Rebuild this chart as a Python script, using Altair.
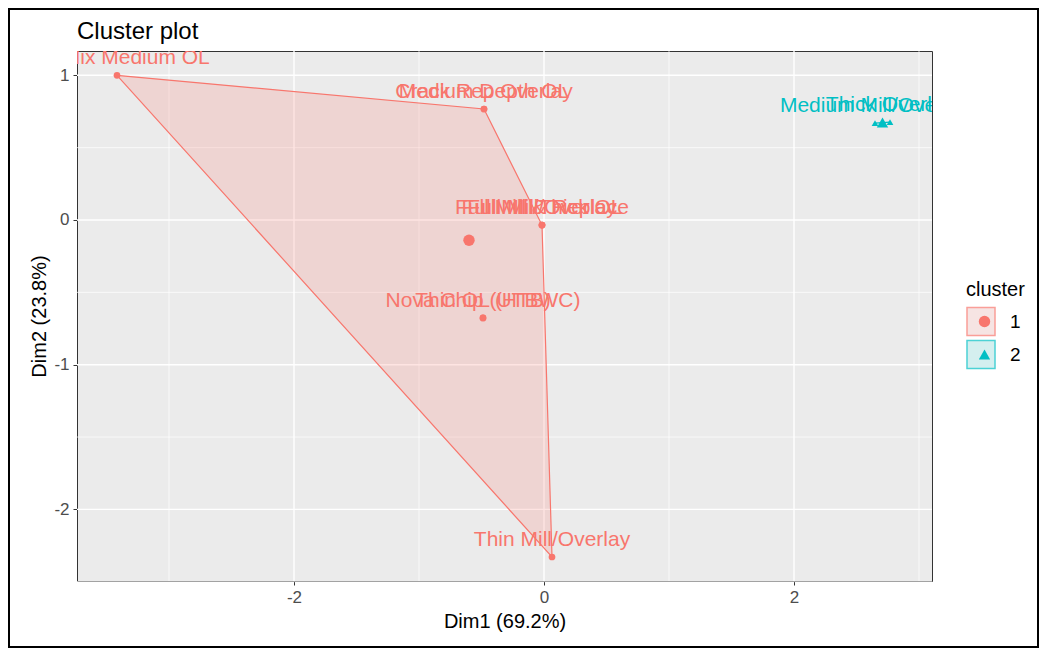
import altair as alt
import pandas as pd

# ---------------- data ----------------
labels = ["Hot Mix Medium OL", "Crack Rep Overlay", "Medium Depth OL",
          "Full Mill & Replace", "Full Mill/Overlay", "Full Mill/Thick OL",
          "Nova Chip (UTBWC)", "Thin OL (HTB)", "Thin Mill/Overlay",
          "Medium Mill/Overlay", "Thick Overlay"]
dim1 = [-3.416, -0.48, -0.48, -0.016, -0.016, -0.016, -0.488, -0.488, 0.064, 2.648, 2.768]
dim2 = [1.000, 0.767, 0.767, -0.035, -0.035, -0.035, -0.677, -0.677, -2.329, 0.670, 0.677]
cluster = ["1", "1", "1", "1", "1", "1", "1", "1", "1", "2", "2"]

center_cluster = ["1", "2"]
center_dim1 = [-0.60, 2.708]
center_dim2 = [-0.14, 0.674]

hull_cluster1 = ["Hot Mix Medium OL", "Crack Rep Overlay", "Full Mill & Replace",
                 "Thin Mill/Overlay", "Hot Mix Medium OL"]
hull_cluster2 = ["Medium Mill/Overlay", "Thick Overlay", "Medium Mill/Overlay"]

cluster_names = ["1", "2"]
cluster_colors = ["#F8766D", "#00BFC4"]
box_fills = ["#F3D9D7", "#C2E8E9"]
cluster_shapes = ["circle", "triangle-up"]

x_ticks = [-2, 0, 2]
x_minor = [-3, -1, 1, 3]
y_ticks = [-2, -1, 0, 1]
y_minor = [-2.5, -1.5, -0.5, 0.5]
x_domain = [-3.736, 3.104]
y_domain = [-2.495, 1.168]

# ---------------- tables ----------------
pts = pd.DataFrame({"label": labels, "dim1": dim1, "dim2": dim2, "cluster": cluster})
centers = pd.DataFrame({"cluster": center_cluster, "dim1": center_dim1, "dim2": center_dim2})
lookup = {l: (a, b) for l, a, b in zip(labels, dim1, dim2)}
hull_rows = []
for cl, names in (("1", hull_cluster1), ("2", hull_cluster2)):
    for i, n in enumerate(names):
        hull_rows.append({"cluster": cl, "ord": i, "dim1": lookup[n][0], "dim2": lookup[n][1]})
hull = pd.DataFrame(hull_rows)

FONT = "Liberation Sans"
W, H = 855, 530

xscale = alt.Scale(domain=x_domain, nice=False, zero=False)
yscale = alt.Scale(domain=y_domain, nice=False, zero=False)
xaxis = alt.Axis(values=x_ticks, grid=False, domain=False, ticks=True, tickSize=4,
                 tickColor="#333333", labelFontSize=17, labelColor="#4D4D4D",
                 labelFont=FONT, labelPadding=4, title="Dim1 (69.2%)", titleFont=FONT,
                 titleFontSize=20, titleFontWeight="normal", titleColor="black",
                 titlePadding=6, format="d", labelExpr="replace(datum.label, '−', '-')")
yaxis = alt.Axis(values=y_ticks, grid=False, domain=False, ticks=True, tickSize=4,
                 tickColor="#333333", labelFontSize=17, labelColor="#4D4D4D",
                 labelFont=FONT, labelPadding=4, title="Dim2 (23.8%)", titleFont=FONT,
                 titleFontSize=20, titleFontWeight="normal", titleColor="black",
                 titlePadding=4, format="d", labelExpr="replace(datum.label, '−', '-')")


def X(field):
    return alt.X(field, type="quantitative", scale=xscale, axis=xaxis)


def Y(field):
    return alt.Y(field, type="quantitative", scale=yscale, axis=yaxis)


# grid
gx_minor = alt.Chart(pd.DataFrame({"v": x_minor})).mark_rule(color="white", strokeWidth=0.7).encode(x=X("v"))
gx_major = alt.Chart(pd.DataFrame({"v": x_ticks})).mark_rule(color="white", strokeWidth=1.4).encode(x=X("v"))
gy_minor = alt.Chart(pd.DataFrame({"v": y_minor})).mark_rule(color="white", strokeWidth=0.7).encode(y=Y("v"))
gy_major = alt.Chart(pd.DataFrame({"v": y_ticks})).mark_rule(color="white", strokeWidth=1.4).encode(y=Y("v"))

legend_x, legend_y = 889, 229

box_legend = alt.Legend(title="cluster", orient="none", legendX=legend_x, legendY=legend_y,
                        symbolType="square", symbolSize=784, symbolStrokeWidth=1.5,
                        clipHeight=31, labelFontSize=19, labelColor="black", labelFont=FONT,
                        titleFontSize=20, titleFont=FONT, titleFontWeight="normal",
                        titleColor="black", labelOffset=14, titlePadding=6, zindex=1)
shape_legend = alt.Legend(title="cluster", orient="none", legendX=legend_x + 9, legendY=legend_y,
                          symbolSize=130, clipHeight=31, labelFontSize=19, labelOpacity=0,
                          labelFont=FONT, titleFontSize=20, titleFont=FONT, titleOpacity=0,
                          titleFontWeight="normal", titleColor="black", titlePadding=6, zindex=2)

hull_layers = []
for cl, col in zip(cluster_names, cluster_colors):
    hull_layers.append(
        alt.Chart(hull).transform_filter(alt.datum.cluster == cl).mark_line(
            fill=col, fillOpacity=0.2, stroke=col, strokeWidth=1.2
        ).encode(x=X("dim1"), y=Y("dim2"), order="ord:Q")
    )

# invisible layer that only carries the boxed legend keys
legend_box_layer = alt.Chart(centers).mark_point(shape="square", filled=True, size=0).encode(
    x=X("dim1"), y=Y("dim2"),
    fill=alt.Fill("cluster:N", scale=alt.Scale(domain=cluster_names, range=box_fills), legend=box_legend),
    stroke=alt.Stroke("cluster:N", scale=alt.Scale(domain=cluster_names, range=cluster_colors), legend=box_legend),
)

color_enc = alt.Color("cluster:N", scale=alt.Scale(range=cluster_colors), legend=shape_legend)
shape_enc = alt.Shape("cluster:N", scale=alt.Scale(range=cluster_shapes), legend=shape_legend)

point_layer = alt.Chart(pts).mark_point(filled=True, size=45, opacity=1).encode(
    x=X("dim1"), y=Y("dim2"), color=color_enc, shape=shape_enc)
center_layer = alt.Chart(centers).mark_point(filled=True, size=130, opacity=1).encode(
    x=X("dim1"), y=Y("dim2"), color=color_enc, shape=shape_enc)

text_layers = []
for cl, col in zip(cluster_names, cluster_colors):
    text_layers.append(
        alt.Chart(pts).transform_filter(alt.datum.cluster == cl).mark_text(
            fontSize=21, font=FONT, color=col, dy=-11, baseline="alphabetic",
            align="center", clip=True
        ).encode(x=X("dim1"), y=Y("dim2"), text="label:N")
    )

frame = alt.Chart(alt.Data(values=[{}])).mark_rect(
    filled=False, stroke="black", strokeWidth=2
).encode(x=alt.value(-68), x2=alt.value(961), y=alt.value(-42), y2=alt.value(596))

chart = alt.layer(
    gx_minor, gy_minor, gx_major, gy_major, *hull_layers, legend_box_layer,
    point_layer, center_layer, *text_layers, frame
).properties(
    width=W, height=H,
    title=alt.TitleParams("Cluster plot", anchor="start", fontSize=24, font=FONT,
                          fontWeight="normal", color="black", offset=-36, frame="group"),
    autosize=alt.AutoSizeParams(type="none"),
    padding={"left": 69, "top": 43, "right": 107, "bottom": 67},
).configure_view(
    fill="#EBEBEB", stroke="#333333", strokeWidth=1
)

chart.save("out.html", embed_options={"renderer": "svg", "actions": False})
